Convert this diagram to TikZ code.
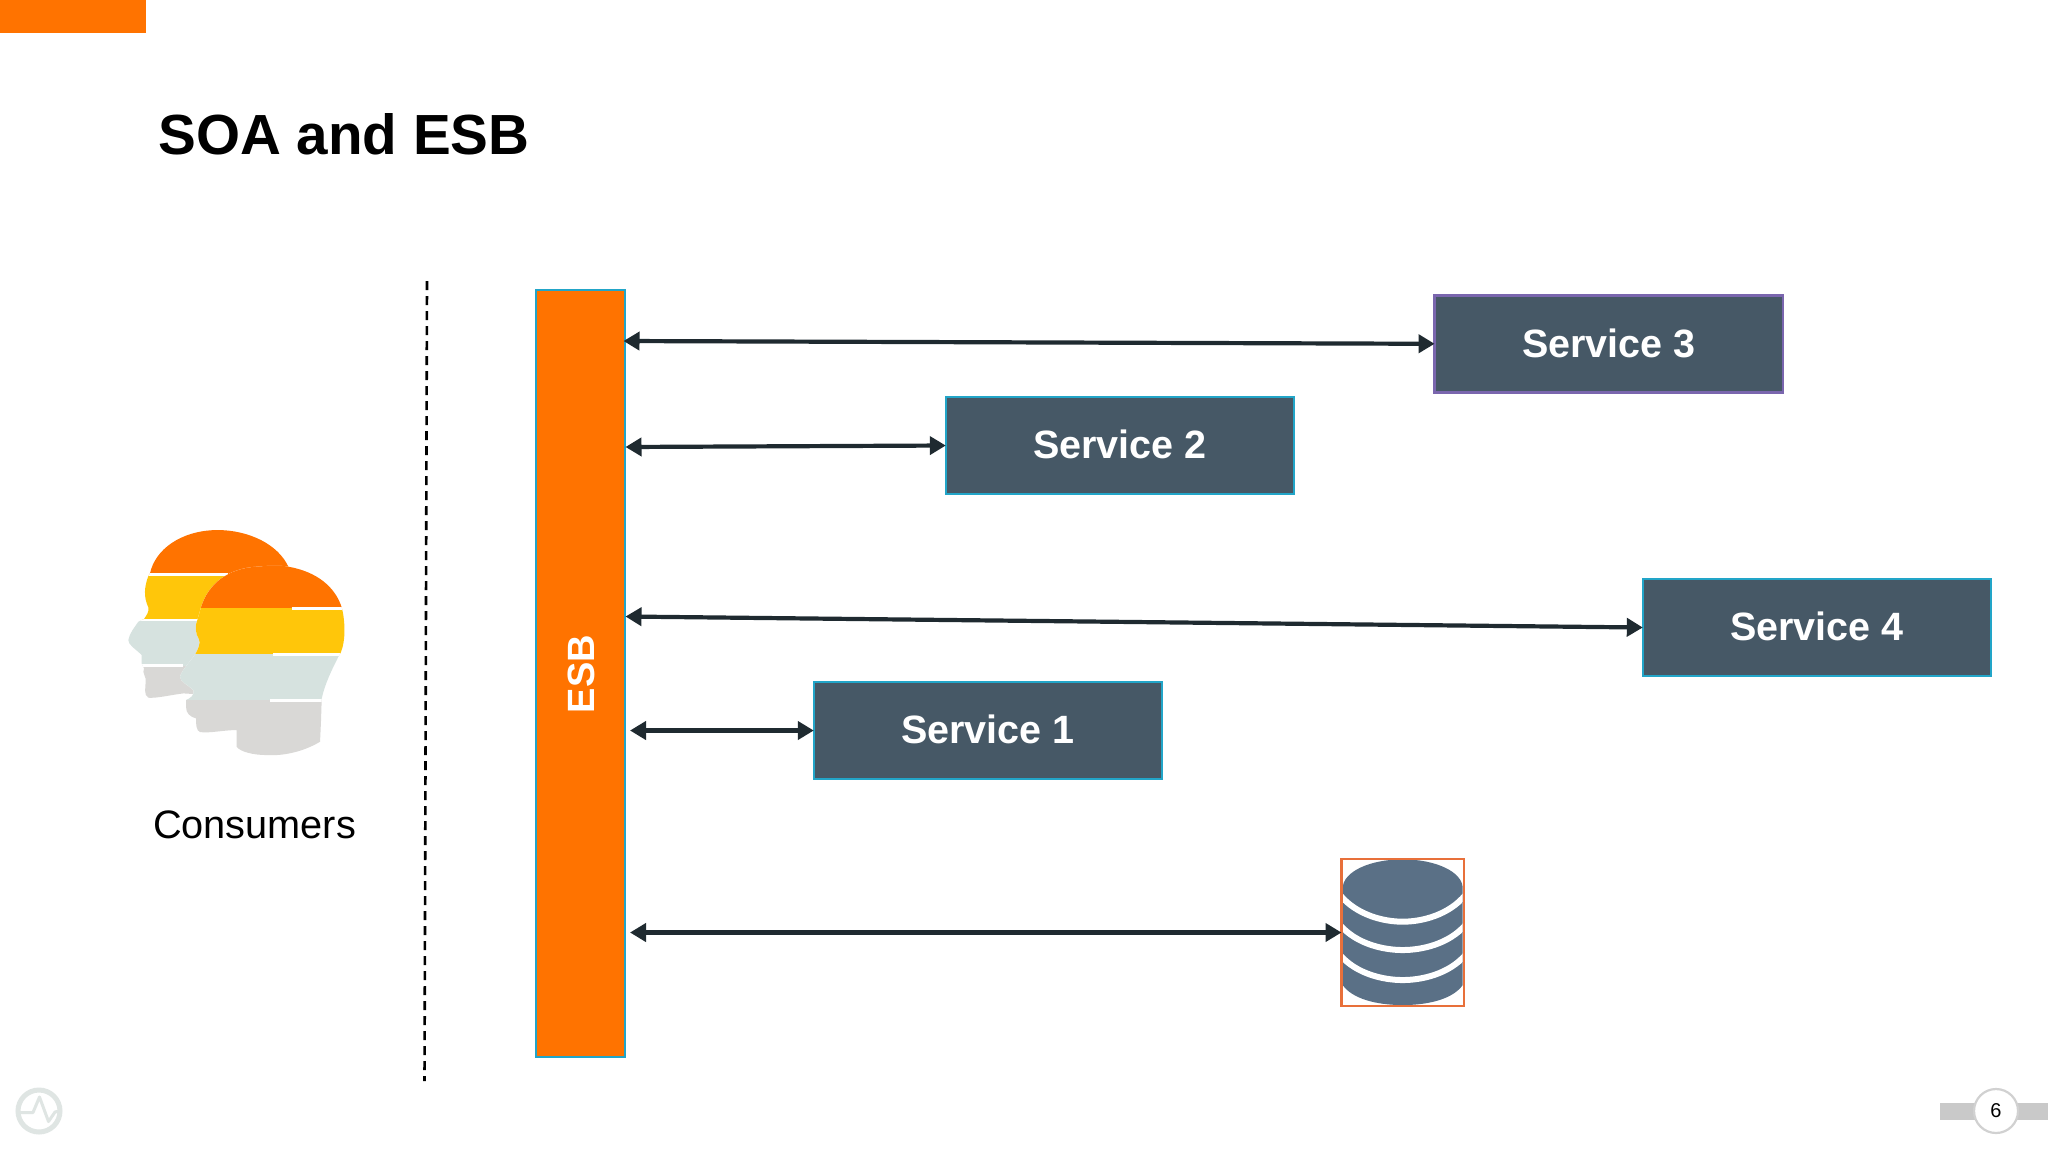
\documentclass[tikz,border=0pt]{standalone}
\usepackage{fontspec}
\setmainfont{Liberation Sans}
\usetikzlibrary{arrows.meta}
\definecolor{orng}{HTML}{FF7300}
\definecolor{slate}{HTML}{465866}
\definecolor{teal}{HTML}{22A5C8}
\definecolor{purp}{HTML}{7A66AE}
\definecolor{ink}{HTML}{1F2A30}
\definecolor{ylw}{HTML}{FFC60A}
\definecolor{mist}{HTML}{D6E2DF}
\definecolor{stone}{HTML}{D9D8D6}
\definecolor{dbcol}{HTML}{5A7086}
\definecolor{frame}{HTML}{E8703A}
\definecolor{barcol}{HTML}{C9C9C9}
\definecolor{logocol}{HTML}{DFE5E3}
\newcommand{\fsz}[1]{\fontsize{#1}{#1}\selectfont}
\newcommand{\frontheadpath}{(303,322) .. controls (325,250) and (385,205) .. (470,200) .. controls (490,198) and (540,195) .. (565,200) .. controls (650,215) and (705,260) .. (725,322) .. controls (735,360) and (738,420) .. (722,458) -- (715,470) .. controls (695,510) and (675,550) .. (665,595) -- (663,660) -- (660,725) .. controls (610,755) and (550,768) .. (500,765) .. controls (460,765) and (420,755) .. (410,740) -- (410,690) .. controls (370,690) and (330,700) .. (300,696) .. controls (288,692) and (288,670) .. (288,655) .. controls (270,650) and (258,640) .. (258,620) -- (258,600) .. controls (270,595) and (285,585) .. (280,570) .. controls (265,555) and (240,545) .. (240,530) .. controls (245,510) and (275,480) .. (287,460) .. controls (295,445) and (302,430) .. (297,418) .. controls (285,400) and (285,375) .. (292,360) -- cycle}
\newcommand{\backheadpath}{(150,220) .. controls (165,150) and (240,92) .. (350,90) .. controls (450,90) and (535,135) .. (565,200) -- (565,600) -- (250,580) .. controls (210,585) and (170,595) .. (145,593) .. controls (130,585) and (137,560) .. (137,545) .. controls (140,530) and (125,520) .. (132,505) -- (125,490) -- (125,465) .. controls (105,445) and (85,435) .. (85,420) .. controls (88,400) and (105,380) .. (115,365) -- (132,357) .. controls (140,345) and (148,335) .. (145,322) .. controls (130,290) and (133,260) .. (145,228) -- cycle}
\tikzset{
  px/.style={line width=#1*0.5pt},
  svc/.style={rectangle,fill=slate,draw=teal,px=2,outer sep=0pt,minimum width=174.2pt,minimum height=48.5pt,text depth=1pt,inner sep=0pt,text=white,font=\bfseries\fsz{19.75}},
  link/.style={draw=ink,px=4.2,{Triangle[length=8pt,width=9pt]}-{Triangle[length=8pt,width=9pt]}},
  sep/.style={draw=white,px=2.8},
  dbsep/.style={draw=white,px=6},
}
\begin{document}
\begin{tikzpicture}[x=0.5pt,y=-0.5pt]
\useasboundingbox (0,0) rectangle (2048,1152);
\fill[white] (0,0) rectangle (2048,1152);
\fill[orng] (0,0) rectangle (146,32.5);
\node[anchor=base west,inner sep=0pt,font=\bfseries\fsz{28.3}] (title) at (158,154.5) {SOA and ESB};
\draw[px=2.6,dash pattern=on 4.5pt off 3pt] (427,281) -- (424.5,1081);
% consumers icon
\begin{scope}[shift={(100,500)},x=0.1667pt,y=-0.1667pt]
  \begin{scope}
    \clip \backheadpath;
    \fill[orng] (0,0) rectangle (900,224);
    \fill[ylw] (0,224) rectangle (900,360);
    \fill[mist] (0,360) rectangle (900,497);
    \fill[stone] (0,497) rectangle (900,800);
    \draw[sep] (100,224) -- (385,224);
    \draw[sep] (100,360) -- (295,360);
    \draw[sep] (100,497) -- (250,497);
  \end{scope}
  \fill[white] \frontheadpath;
  \begin{scope}
    \clip \frontheadpath;
    \fill[orng] (0,0) rectangle (900,324);
    \fill[ylw] (0,324) rectangle (900,462);
    \fill[mist] (0,462) rectangle (900,601);
    \fill[stone] (0,601) rectangle (900,800);
    \draw[sep] (575,325) -- (760,325);
    \draw[sep] (520,464) -- (760,464);
    \draw[sep] (510,602) -- (760,602);
  \end{scope}
\end{scope}
\node[inner sep=0pt,font=\fsz{19.85}] (consumers) at (254.5,825) {Consumers};
% ESB
\node[rectangle,fill=orng,draw=teal,px=2,outer sep=0pt,minimum width=44.6pt,minimum height=383.5pt,inner sep=0pt,anchor=north west] (esb) at (535.8,289.5) {};
\node[rotate=90,inner sep=0pt,text=white,font=\bfseries\fsz{19}] (esblabel) at (581,674) {ESB};
% services
\node[svc,draw=purp,px=2.6,anchor=north west] (s3) at (1434.6,295.3) {Service 3};
\node[svc,anchor=north west] (s2) at (945.8,397) {Service 2};
\node[svc,anchor=north west] (s4) at (1642.8,579) {Service 4};
\node[svc,anchor=north west] (s1) at (813.8,682) {Service 1};
% database
\begin{scope}[shift={(1320,840)},x=0.1667pt,y=-0.1667pt]
  \begin{scope}
    \clip (68,145) .. controls (68,95) and (150,58) .. (248,58) .. controls (346,58) and (428,95) .. (428,145) -- (428,435) .. controls (400,475) and (330,495) .. (248,495) .. controls (166,495) and (96,475) .. (68,435) -- cycle;
    \fill[dbcol] (60,50) rectangle (440,500);
    \draw[dbsep] (60,165) .. controls (110,225) and (190,245) .. (248,245) .. controls (306,245) and (386,225) .. (436,165);
    \draw[dbsep] (60,255) .. controls (110,312) and (190,330) .. (248,330) .. controls (306,330) and (386,312) .. (436,255);
    \draw[dbsep] (60,345) .. controls (110,402) and (190,420) .. (248,420) .. controls (306,420) and (386,402) .. (436,345);
  \end{scope}
\end{scope}
\node[rectangle,draw=frame,px=2.4,outer sep=0pt,minimum width=61.2pt,minimum height=73.5pt,inner sep=0pt,anchor=north west] (db) at (1341.5,859) {};
% connectors
\coordinate (e3) at (623.5,341);
\coordinate (e2) at (625.5,447);
\coordinate (e4) at (625.5,616.5);
\coordinate (e1) at (630,730.5);
\coordinate (e0) at (630,932.5);
\draw[link] (e3) -- (s3.west);
\draw[link] (e2) -- (s2.west);
\draw[link] (e4) -- (s4.west);
\draw[link] (e1) -- (s1.west);
\draw[link] (e0) -- (db.west);
% logo
\draw[logocol,px=5] (39,1111) circle[radius=21];
\draw[logocol,px=3,line join=round] (20,1112.5) -- (33,1112.5) -- (39.5,1097) -- (48.5,1121.5) -- (55,1112) -- (61,1110.5);
% page number
\fill[barcol] (1940,1103) rectangle (2048,1120);
\node[circle,fill=white,draw=barcol!85!white,px=2.2,minimum size=22pt,inner sep=0pt,font=\fsz{10}] (page) at (1996,1111) {6};
\end{tikzpicture}
\end{document}
